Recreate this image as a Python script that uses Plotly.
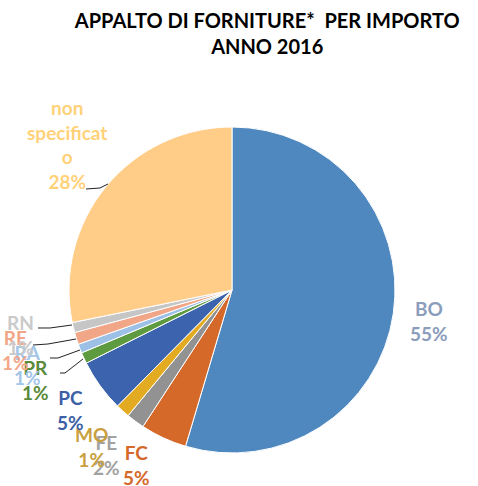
import plotly.graph_objects as go

# slice data, clockwise from 12 o'clock
labels = ["BO", "FC", "FE", "MO", "PC", "PR", "RA", "RE", "RN", "non specificato"]
label_text = ["BO", "FC", "FE", "MO", "PC", "PR", "RA", "RE", "RN", "non<br>specificat<br>o"]
values = [54.6, 4.6, 1.8, 1.4, 5.2, 1.1, 0.9, 1.2, 1.0, 28.2]

slice_colors = ["#4F88BF", "#D5692A", "#929292", "#E2AB22", "#3C63AD",
                "#5E9A3F", "#9DC1E6", "#F2A688", "#C6C6C6", "#FFCD88"]
text_colors = ["#8B9DBB", "#D5692A", "#A2A2A2", "#C9A040", "#3C5FA6",
               "#5A8A3A", "#A3C5E8", "#F2A688", "#CACACA", "#FFD27A"]

W, H = 478, 486


def px_x(x):
    return x / W


def px_y(y):
    return 1 - y / H


# label block centres in pixels (layout only)
label_pos = [(429, 321), (136, 465), (106, 455), (91, 447), (70, 410),
             (35, 380), (27, 365), (16, 350), (20, 335), (67, 144)]
# leader lines in pixels
leaders = [
    [(86, 189), (100, 188), (108, 184)],
    [(38, 328), (50, 328), (72, 325)],
    [(33, 345), (48, 344), (76, 339)],
    [(50, 358), (58, 358), (80, 350)],
    [(60, 373), (65, 373), (83, 359)],
]
cx, cy, r = 232, 290, 163

fig = go.Figure(go.Pie(
    labels=labels,
    values=values,
    textinfo="none",
    sort=False,
    direction="clockwise",
    rotation=0,
    marker=dict(colors=slice_colors, line=dict(color="white", width=1)),
    domain=dict(x=[px_x(cx - r), px_x(cx + r)],
                y=[px_y(cy + r), px_y(cy - r)]),
    hoverinfo="label+percent",
    showlegend=False,
))

total = sum(values)
for name, v, col, (px, py) in zip(label_text, values, text_colors, label_pos):
    fig.add_annotation(
        x=px_x(px), y=px_y(py), xref="paper", yref="paper",
        text="<b>%s<br>%d%%</b>" % (name, round(v / total * 100)),
        showarrow=False, xanchor="center", yanchor="middle",
        font=dict(family="Lato", size=19, color=col),
    )

for pts in leaders:
    path = "M " + " L ".join("%f,%f" % (px_x(x), px_y(y)) for x, y in pts)
    fig.add_shape(type="path", path=path, xref="paper", yref="paper",
                  line=dict(color="#222222", width=1))

fig.update_layout(
    width=W, height=H,
    margin=dict(l=0, r=0, t=0, b=0),
    paper_bgcolor="white",
    title=dict(
        text="<b>APPALTO DI FORNITURE*  PER IMPORTO<br>ANNO 2016</b>",
        x=0.559, xanchor="center", y=0.942, yanchor="top",
        font=dict(family="Lato", size=20, color="black"),
    ),
)

# drop the default page margin so the figure sits at the window's corner
fig.write_html("out.html", config={"displayModeBar": False},
               post_script="document.body.style.margin='0';")
